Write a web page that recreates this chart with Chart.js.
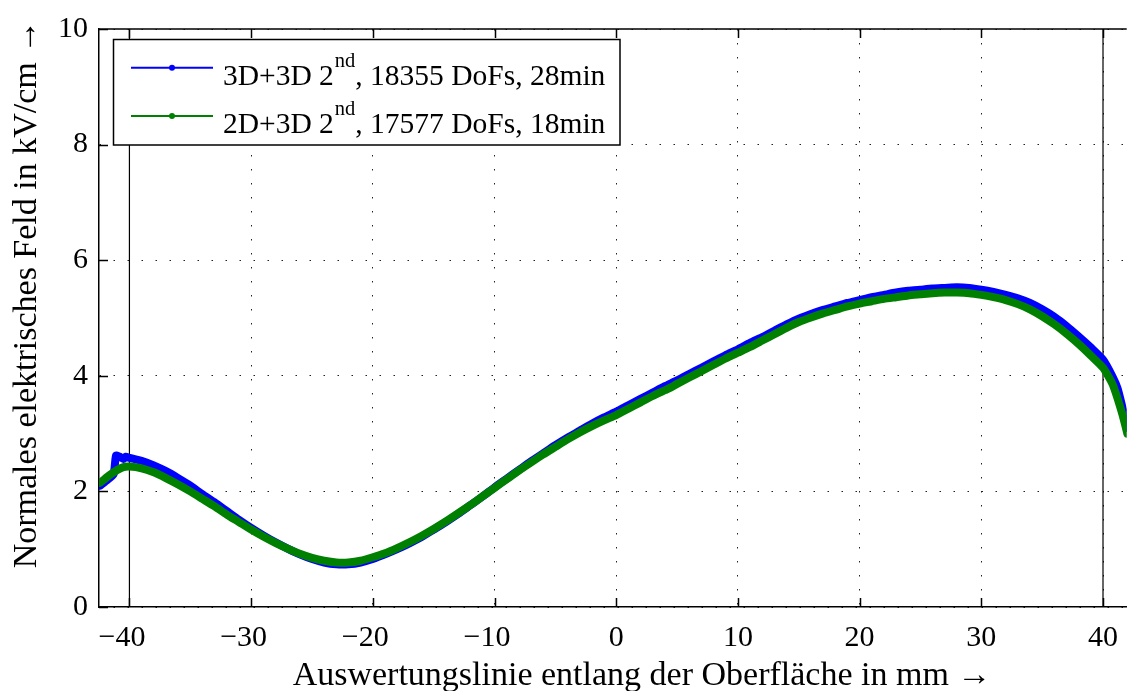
<!DOCTYPE html>
<html>
<head>
<meta charset="utf-8">
<script src="https://cdn.jsdelivr.net/npm/chart.js@4"></script>
<style>
html, body { margin: 0; padding: 0; background: #fff; overflow: hidden; }
</style>
</head>
<body>
<canvas id="myChart" width="1131" height="691"></canvas>
<script>
var xTicks = [-40, -30, -20, -10, 0, 10, 20, 30, 40];
var yTicks = [0, 2, 4, 6, 8, 10];
var xTitle = 'Auswertungslinie entlang der Oberfläche in mm \u2192';
var yTitle = 'Normales elektrisches Feld in kV/cm \u2192';
var seriesLabels = ['3D+3D 2^{nd}, 18355 DoFs, 28min', '2D+3D 2^{nd}, 17577 DoFs, 18min'];
var seriesColors = ['#0000ff', '#008000'];
var markerLines = [-40, 40];

// 3D+3D
var xBlue = [-42.4, -41.8, -41.3, -41.1, -40.8, -40.5, -40.3, -40, -39, -38, -37, -36, -35, -34, -33, -32, -31, -30,
    -29, -28, -27, -26, -25, -24, -23, -22, -21, -20, -19, -18, -17, -16, -15, -14, -13, -12, -11, -10,
    -9, -8, -7, -6, -5, -4, -3, -2, -1, 0, 1, 2, 3, 4, 5, 6, 7, 8, 9, 10, 11, 12, 13, 14, 15, 16, 17, 18, 19, 20,
    21, 22, 23, 24, 25, 26, 27, 28, 29, 30, 31, 32, 33, 34, 35, 36, 37, 38, 39, 40, 40.8, 41.2, 41.6, 42, 42.5];
var yBlue = [2.10, 2.20, 2.30, 2.62, 2.60, 2.56, 2.60, 2.58, 2.53, 2.45, 2.35, 2.23, 2.10, 1.95, 1.81, 1.66, 1.51, 1.37,
    1.24, 1.12, 1.01, 0.91, 0.83, 0.77, 0.74, 0.74, 0.77, 0.83, 0.91, 1.00, 1.10, 1.21, 1.34, 1.47, 1.61, 1.76, 1.91, 2.07,
    2.22, 2.37, 2.52, 2.66, 2.80, 2.93, 3.05, 3.17, 3.28, 3.38, 3.49, 3.60, 3.71, 3.82, 3.92, 4.03, 4.14, 4.25, 4.36, 4.46,
    4.57, 4.67, 4.78, 4.89, 4.99, 5.07, 5.14, 5.20, 5.26, 5.31, 5.36, 5.40, 5.44, 5.47, 5.49, 5.51, 5.52, 5.53, 5.52, 5.49,
    5.45, 5.40, 5.34, 5.26, 5.15, 5.02, 4.86, 4.68, 4.49, 4.28, 3.98, 3.78, 3.45, 3.10, 2.75];

// 2D+3D
var xGreen = [-42.4, -41.7, -41.0, -40.5, -40, -39, -38, -37, -36, -35, -34, -33, -32, -31, -30,
    -29, -28, -27, -26, -25, -24, -23, -22, -21, -20, -19, -18, -17, -16, -15, -14, -13, -12, -11, -10,
    -9, -8, -7, -6, -5, -4, -3, -2, -1, 0, 1, 2, 3, 4, 4.5, 5, 6, 7, 8, 9, 10, 11, 12, 13, 14, 15, 16, 17, 18, 19, 20,
    21, 22, 23, 24, 25, 26, 27, 28, 29, 30, 31, 32, 33, 34, 35, 36, 37, 38, 39, 40, 40.8, 41.6, 42, 42.5];
var yGreen = [2.15, 2.27, 2.37, 2.42, 2.43, 2.40, 2.33, 2.23, 2.12, 2.00, 1.87, 1.74, 1.60, 1.47, 1.34,
    1.22, 1.11, 1.01, 0.92, 0.85, 0.80, 0.77, 0.77, 0.80, 0.86, 0.93, 1.02, 1.12, 1.23, 1.35, 1.48, 1.62, 1.76, 1.91, 2.06,
    2.21, 2.36, 2.50, 2.64, 2.77, 2.90, 3.02, 3.13, 3.23, 3.32, 3.43, 3.54, 3.65, 3.75, 3.80, 3.86, 3.97, 4.08, 4.19, 4.30, 4.40,
    4.50, 4.61, 4.72, 4.83, 4.93, 5.01, 5.08, 5.14, 5.20, 5.25, 5.29, 5.33, 5.36, 5.39, 5.41, 5.43, 5.44, 5.44, 5.43, 5.40,
    5.36, 5.31, 5.24, 5.15, 5.03, 4.89, 4.73, 4.55, 4.35, 4.14, 3.85, 3.33, 3.00, 2.65];

var FONT = '"Liberation Serif", "Times New Roman", serif';

function toPoints(xs, ys) {
    return xs.map(function(x, i) { return {x: x, y: ys[i]}; });
}

// frame on top, ticks pointing inwards, axis titles, legend box
var decorPlugin = {
    id: 'decor',
    afterDraw: function(chart) {
        var ctx = chart.ctx, a = chart.chartArea;
        var sx = chart.scales.x, sy = chart.scales.y;
        ctx.save();
        ctx.strokeStyle = '#000';
        ctx.lineWidth = 1.5;
        ctx.beginPath();
        ctx.moveTo(a.left, a.top);
        ctx.lineTo(a.right, a.top);
        xTicks.forEach(function(v) {
            var px = Math.round(sx.getPixelForValue(v)) + 0.5;
            ctx.moveTo(px, a.bottom); ctx.lineTo(px, a.bottom - 9);
            ctx.moveTo(px, a.top); ctx.lineTo(px, a.top + 9);
        });
        yTicks.forEach(function(v) {
            var py = Math.round(sy.getPixelForValue(v)) + 0.5;
            ctx.moveTo(a.left, py); ctx.lineTo(a.left + 9, py);
        });
        ctx.stroke();

        // axis titles
        ctx.fillStyle = '#000';
        ctx.font = '34px ' + FONT;
        ctx.textAlign = 'center';
        ctx.textBaseline = 'alphabetic';
        ctx.fillText(xTitle, 642, 685);
        ctx.save();
        ctx.translate(36, 294);
        ctx.rotate(-Math.PI / 2);
        ctx.fillText(yTitle, 0, 0);
        ctx.restore();

        // legend
        var bx = 113.5, by = 39.5, bw = 506.5, bh = 105.5;
        ctx.fillStyle = '#fff';
        ctx.fillRect(bx, by, bw, bh);
        ctx.lineWidth = 1.5;
        ctx.strokeStyle = '#000';
        ctx.strokeRect(bx, by, bw, bh);
        seriesLabels.forEach(function(lbl, i) {
            var ly = 67.7 + i * 48.3;
            ctx.strokeStyle = seriesColors[i];
            ctx.lineWidth = 2;
            ctx.beginPath();
            ctx.moveTo(131, ly); ctx.lineTo(213, ly);
            ctx.stroke();
            ctx.fillStyle = seriesColors[i];
            ctx.beginPath();
            ctx.arc(172, ly, 3, 0, Math.PI * 2);
            ctx.fill();

            var m = lbl.match(/^(.*)\^\{(.*)\}(.*)$/);
            var base = ly + 16.8, tx = 223;
            ctx.fillStyle = '#000';
            ctx.textAlign = 'left';
            ctx.font = '29.5px ' + FONT;
            ctx.fillText(m[1], tx, base);
            tx += ctx.measureText(m[1]).width + 1;
            ctx.font = '20.5px ' + FONT;
            ctx.fillText(m[2], tx, base - 18);
            tx += ctx.measureText(m[2]).width;
            ctx.font = '29.5px ' + FONT;
            ctx.fillText(m[3], tx, base);
        });
        ctx.restore();
    }
};

var datasets = [];
markerLines.forEach(function(v) {
    datasets.push({
        label: 'x = ' + v,
        data: [{x: v, y: 0}, {x: v, y: 10}],
        borderColor: '#000',
        borderWidth: 1.2,
        pointRadius: 0,
        order: 5
    });
});
datasets.push({
    label: seriesLabels[0].replace(/\^\{(.*)\}/, '$1'),
    data: toPoints(xBlue, yBlue),
    borderColor: seriesColors[0],
    backgroundColor: seriesColors[0],
    borderWidth: 8,
    pointRadius: 0,
    tension: 0.2,
    borderCapStyle: 'round',
    borderJoinStyle: 'round',
    order: 2
});
datasets.push({
    label: seriesLabels[1].replace(/\^\{(.*)\}/, '$1'),
    data: toPoints(xGreen, yGreen),
    borderColor: seriesColors[1],
    backgroundColor: seriesColors[1],
    borderWidth: 8,
    pointRadius: 0,
    tension: 0.2,
    borderCapStyle: 'round',
    borderJoinStyle: 'round',
    order: 1
});

var ctx = document.getElementById('myChart');
var myChart = new Chart(ctx, {
    type: 'line',
    data: { datasets: datasets },
    plugins: [decorPlugin],
    options: {
        responsive: false,
        animation: false,
        devicePixelRatio: 1,
        layout: { padding: { top: 23, right: 0, left: 0, bottom: 0 } },
        plugins: {
            legend: { display: false },
            tooltip: { enabled: false }
        },
        scales: {
            x: {
                type: 'linear',
                min: -42.5,
                max: 41.95,
                afterBuildTicks: function(scale) {
                    scale.ticks = xTicks.map(function(v) { return {value: v}; });
                },
                afterFit: function(scale) { scale.height = 84; },
                ticks: {
                    color: '#000',
                    padding: 13,
                    maxRotation: 0,
                    font: { family: FONT, size: 30 },
                    // negative labels sit a little left of their tick, as in the original
                    callback: function(v) { return v < 0 ? '\u2212' + Math.abs(v) + '\u2002' : String(v); }
                },
                grid: { color: '#222', lineWidth: 1, drawTicks: false },
                border: { color: '#000', width: 1.5, dash: [1.5, 12.5] }
            },
            y: {
                min: 0,
                max: 10,
                afterBuildTicks: function(scale) {
                    scale.ticks = yTicks.map(function(v) { return {value: v}; });
                },
                afterFit: function(scale) { scale.width = 99; },
                ticks: {
                    color: '#000',
                    padding: 11,
                    font: { family: FONT, size: 30 }
                },
                grid: { color: '#222', lineWidth: 1, drawTicks: false },
                border: { color: '#000', width: 1.5, dash: [1.5, 12.5] }
            }
        }
    }
});
</script>
</body>
</html>
